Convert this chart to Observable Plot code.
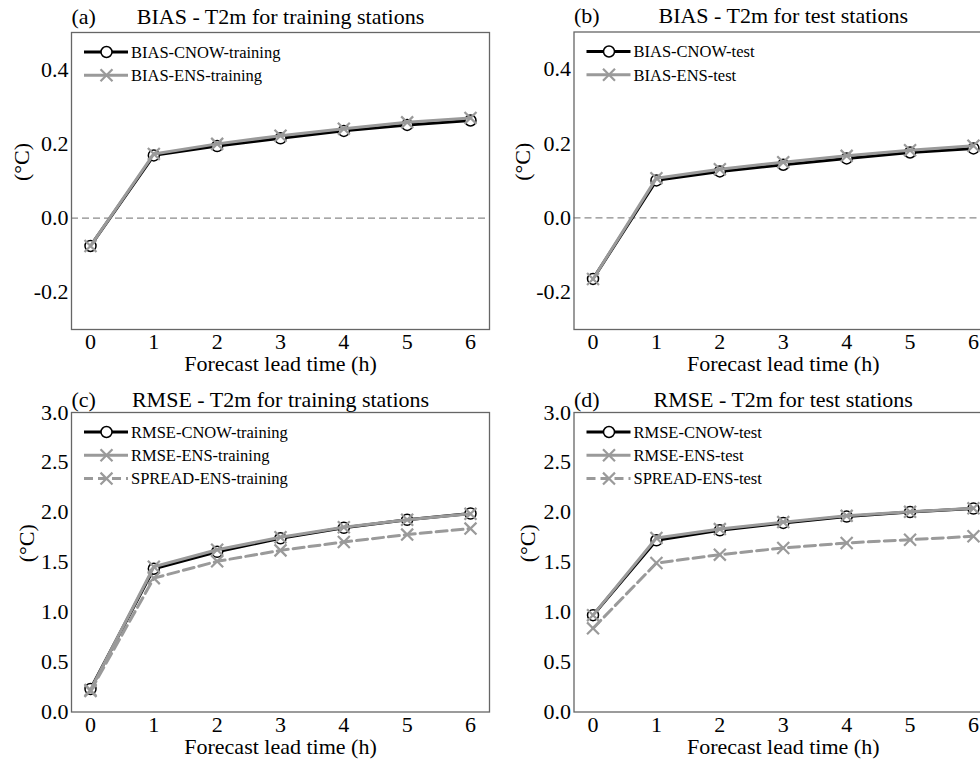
<!DOCTYPE html>
<html><head><meta charset="utf-8">
<script src="https://cdn.jsdelivr.net/npm/d3@7"></script>
<script src="https://cdn.jsdelivr.net/npm/@observablehq/plot@0.6"></script>
<style>
body{margin:0;background:#fff;}
#wrap{position:relative;width:980px;height:759px;overflow:hidden;background:#fff;font-family:"Liberation Serif","DejaVu Serif",serif;}
.panel{position:absolute;}
.panel text{font-family:"Liberation Serif","DejaVu Serif",serif !important;}
</style></head><body><div id="wrap"></div>
<script>
// ---- data ----
const leadTimes = [0, 1, 2, 3, 4, 5, 6];
const xTicks = [0, 1, 2, 3, 4, 5, 6];
const biasTicks = [-0.2, 0.0, 0.2, 0.4];
const rmseTicks = [0.0, 0.5, 1.0, 1.5, 2.0, 2.5, 3.0];

const biasCnowTraining = [-0.075, 0.169, 0.194, 0.215, 0.235, 0.251, 0.263];
const biasEnsTraining  = [-0.075, 0.173, 0.200, 0.222, 0.241, 0.258, 0.270];
const biasCnowTest     = [-0.164, 0.101, 0.125, 0.143, 0.160, 0.176, 0.187];
const biasEnsTest      = [-0.164, 0.107, 0.131, 0.150, 0.167, 0.182, 0.194];
const rmseCnowTraining = [0.23, 1.435, 1.605, 1.740, 1.845, 1.925, 1.988];
const rmseEnsTraining  = [0.22, 1.455, 1.625, 1.750, 1.850, 1.925, 1.985];
const spreadEnsTraining= [0.21, 1.341, 1.509, 1.619, 1.703, 1.777, 1.837];
const rmseCnowTest     = [0.970, 1.720, 1.820, 1.894, 1.958, 2.003, 2.038];
const rmseEnsTest      = [0.970, 1.743, 1.832, 1.902, 1.965, 2.005, 2.040];
const spreadEnsTest    = [0.838, 1.492, 1.576, 1.643, 1.693, 1.726, 1.760];

const panelLetters = ["(a)", "(b)", "(c)", "(d)"];
const panelTitles = ["BIAS - T2m for training stations", "BIAS - T2m for test stations",
                     "RMSE - T2m for training stations", "RMSE - T2m for test stations"];
const xLabel = "Forecast lead time (h)";
const yLabel = "(°C)";

const FONT = "Liberation Serif, DejaVu Serif, serif";
const GRAY = "#9a9a9a";

const styles = {
  cnow:   {stroke: "#000", width: 3, dash: null, symbol: "circle"},
  ens:    {stroke: GRAY, width: 3, dash: null, symbol: "times"},
  spread: {stroke: GRAY, width: 3, dash: "11,5", symbol: "times"}
};

const panels = [
  {left: 0, top: 0, width: 490, height: 380, mL: 71, mR: 1, mT: 32, mB: 51,
   yDomain: [-0.3, 0.5], yTicks: biasTicks, zero: true, titleDy: -9, yLabDx: -50,
   series: [["BIAS-CNOW-training", biasCnowTraining, "cnow"], ["BIAS-ENS-training", biasEnsTraining, "ens"]]},
  {left: 490, top: 0, width: 502, height: 380, mL: 83.5, mR: 0, mT: 31.5, mB: 51,
   yDomain: [-0.3, 0.5], yTicks: biasTicks, zero: true, titleDy: -9, yLabDx: -51.5,
   series: [["BIAS-CNOW-test", biasCnowTest, "cnow"], ["BIAS-ENS-test", biasEnsTest, "ens"]]},
  {left: 0, top: 380, width: 490, height: 379, mL: 71, mR: 1, mT: 32, mB: 47.5,
   yDomain: [0, 3], yTicks: rmseTicks, zero: false, titleDy: -6, yLabDx: -45,
   series: [["RMSE-CNOW-training", rmseCnowTraining, "cnow"], ["RMSE-ENS-training", rmseEnsTraining, "ens"], ["SPREAD-ENS-training", spreadEnsTraining, "spread"]]},
  {left: 490, top: 380, width: 502, height: 379, mL: 83.5, mR: 0, mT: 32, mB: 47.5,
   yDomain: [0, 3], yTicks: rmseTicks, zero: false, titleDy: -6, yLabDx: -46.5,
   series: [["RMSE-CNOW-test", rmseCnowTest, "cnow"], ["RMSE-ENS-test", rmseEnsTest, "ens"], ["SPREAD-ENS-test", spreadEnsTest, "spread"]]}
];

const wrap = document.getElementById("wrap");

panels.forEach((p, pi) => {
  const marks = [];
  if (p.zero) marks.push(Plot.ruleY([0], {stroke: "#8a8a8a", strokeWidth: 1.3, strokeDasharray: "7,4"}));
  p.series.forEach(([name, vals, key]) => {
    const s = styles[key];
    const rows = leadTimes.map((t, i) => ({t, v: vals[i]}));
    marks.push(Plot.line(rows, {x: "t", y: "v", stroke: s.stroke, strokeWidth: s.width,
      strokeDasharray: s.dash || undefined, strokeLinejoin: "round"}));
    if (s.symbol === "circle") {
      marks.push(Plot.dot(rows, {x: "t", y: "v", symbol: "circle", r: 5.5, fill: "#fff", stroke: "#000", strokeWidth: 1.5}));
    } else {
      marks.push(Plot.dot(rows, {x: "t", y: "v", symbol: "times", r: 5.5, fill: "none", stroke: s.stroke, strokeWidth: 2.2}));
    }
  });
  marks.push(Plot.frame({stroke: "#666", strokeWidth: 1.3}));
  marks.push(Plot.axisX({ticks: xTicks, tickSize: 0, tickPadding: 4, label: null, fontSize: 22, fontFamily: FONT, tickFormat: d => String(d)}));
  marks.push(Plot.axisY({ticks: p.yTicks, tickSize: 0, tickPadding: 3, label: null, fontSize: 22, fontFamily: FONT, tickFormat: d => d.toFixed(1)}));
  marks.push(Plot.text([panelTitles[pi]], {frameAnchor: "top", lineAnchor: "bottom", dy: p.titleDy, text: d => d, fontSize: 22, fontFamily: FONT, fill: "#000"}));
  marks.push(Plot.text([panelLetters[pi]], {frameAnchor: "top-left", textAnchor: "start", lineAnchor: "bottom", dy: p.titleDy, dx: 0, text: d => d, fontSize: 22, fontFamily: FONT, fill: "#000"}));
  marks.push(Plot.text([xLabel], {frameAnchor: "bottom", lineAnchor: "middle", dy: 34.5, text: d => d, fontSize: 22, fontFamily: FONT, fill: "#000"}));
  marks.push(Plot.text([yLabel], {frameAnchor: "left", lineAnchor: "middle", rotate: -90, dx: p.yLabDx, text: d => d, fontSize: 22, fontFamily: FONT, fill: "#000"}));

  const svg = Plot.plot({
    width: p.width, height: p.height,
    marginLeft: p.mL, marginRight: p.mR, marginTop: p.mT, marginBottom: p.mB,
    x: {domain: [-0.3, 6.3]},
    y: {domain: p.yDomain},
    style: {fontFamily: FONT, fontSize: "22px", background: "transparent", color: "#000", overflow: "visible"},
    marks
  });
  svg.classList.add("panel");
  svg.style.left = p.left + "px";
  svg.style.top = p.top + "px";

  // legend
  const g = d3.select(svg).append("g").attr("font-family", FONT).attr("font-size", 16.5).attr("text-anchor", "start");
  p.series.forEach(([name, vals, key], i) => {
    const s = styles[key];
    const y = p.mT + 20 + i * 23.3;
    const x0 = p.mL + 13, x1 = p.mL + 57, mx = p.mL + 35.5;
    g.append("line").attr("x1", x0).attr("x2", x1).attr("y1", y).attr("y2", y)
      .attr("stroke", s.stroke).attr("stroke-width", s.width)
      .attr("stroke-dasharray", key === "spread" ? "9,5" : null);
    if (s.symbol === "circle") {
      g.append("circle").attr("cx", mx).attr("cy", y).attr("r", 5.5)
        .attr("fill", "#fff").attr("stroke", "#000").attr("stroke-width", 1.5);
    } else {
      g.append("path").attr("transform", `translate(${mx},${y})`)
        .attr("d", d3.symbol(d3.symbolTimes, Math.PI * 5.5 * 5.5)())
        .attr("fill", "none").attr("stroke", s.stroke).attr("stroke-width", 2.2);
    }
    g.append("text").attr("x", p.mL + 60).attr("y", y).attr("dy", "0.35em")
      .attr("fill", "#000").attr("text-anchor", "start").text(name);
  });

  wrap.appendChild(svg);
});
</script>
</body></html>
